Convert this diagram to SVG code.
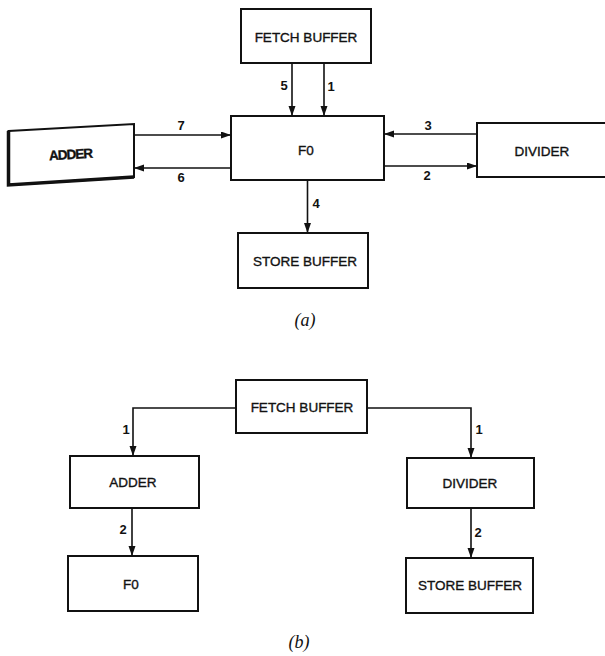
<svg xmlns="http://www.w3.org/2000/svg" width="605" height="656" viewBox="0 0 605 656">
<style>
.box{fill:#fff;stroke:#111;stroke-width:2}
.lbl{font-family:"Liberation Sans",Arial,sans-serif;font-size:13.5px;fill:#111;stroke:#111;stroke-width:0.35;text-anchor:middle}
.num{font-family:"Liberation Sans",Arial,sans-serif;font-size:13px;font-weight:bold;fill:#111;text-anchor:middle}
.cap{font-family:"Liberation Serif","Times New Roman",serif;font-size:18px;font-style:italic;fill:#111;text-anchor:middle}
.con{fill:none;stroke:#111;stroke-width:1.6}
</style>
<defs>
<marker id="ah" markerUnits="userSpaceOnUse" markerWidth="10" markerHeight="8" refX="10" refY="3.5" orient="auto">
<path d="M0,0 L10,3.5 L0,7 Z" fill="#111"/>
</marker>
</defs>
<rect width="605" height="656" fill="#fff"/>

<!-- (a) nodes -->
<g id="a-fetch"><rect class="box" x="241" y="9" width="130" height="54"/><text class="lbl" x="306" y="42">FETCH BUFFER</text></g>
<g id="a-f0"><rect class="box" x="231" y="116" width="153" height="64"/><text class="lbl" x="306" y="155">F0</text></g>
<g id="a-adder">
<polygon class="box" points="8.5,131 134,124 134,177 8.5,185"/>
<path d="M8.5,131 L8.5,185 L134,177" fill="none" stroke="#111" stroke-width="3.5"/>
<text class="lbl" x="71" y="159" font-weight="bold" font-size="13px" textLength="44" transform="rotate(-3 71 154)">ADDER</text>
</g>
<g id="a-divider"><rect class="box" x="477" y="123" width="135" height="54"/><text class="lbl" x="542" y="156">DIVIDER</text></g>
<g id="a-store"><rect class="box" x="238" y="233" width="130" height="55"/><text class="lbl" x="305" y="266">STORE BUFFER</text></g>
<text class="cap" x="305" y="326">(a)</text>

<!-- (a) connectors -->
<g id="a-connectors">
<line class="con" x1="292" y1="63" x2="292" y2="116" marker-end="url(#ah)"/>
<line class="con" x1="324" y1="63" x2="324" y2="116" marker-end="url(#ah)"/>
<line class="con" x1="134" y1="135" x2="231" y2="135" marker-end="url(#ah)"/>
<line class="con" x1="231" y1="168" x2="134" y2="168" marker-end="url(#ah)"/>
<line class="con" x1="477" y1="134" x2="384" y2="134" marker-end="url(#ah)"/>
<line class="con" x1="384" y1="166" x2="477" y2="166" marker-end="url(#ah)"/>
<line class="con" x1="307.5" y1="180" x2="307.5" y2="233" marker-end="url(#ah)"/>
<text class="num" x="284" y="90">5</text>
<text class="num" x="331" y="91">1</text>
<text class="num" x="181" y="130">7</text>
<text class="num" x="181" y="182">6</text>
<text class="num" x="428" y="130">3</text>
<text class="num" x="427" y="180">2</text>
<text class="num" x="316" y="208">4</text>
</g>

<!-- (b) nodes -->
<g id="b-fetch"><rect class="box" x="236" y="380" width="131" height="53"/><text class="lbl" x="302" y="412">FETCH BUFFER</text></g>
<g id="b-adder"><rect class="box" x="70" y="456" width="129" height="52"/><text class="lbl" x="133" y="487">ADDER</text></g>
<g id="b-divider"><rect class="box" x="407" y="458" width="127" height="50"/><text class="lbl" x="470" y="488">DIVIDER</text></g>
<g id="b-f0"><rect class="box" x="68" y="556" width="130" height="55"/><text class="lbl" x="131" y="589">F0</text></g>
<g id="b-store"><rect class="box" x="406" y="558" width="127" height="55"/><text class="lbl" x="470" y="590">STORE BUFFER</text></g>
<text class="cap" x="299" y="648">(b)</text>

<!-- (b) connectors -->
<g id="b-connectors">
<polyline class="con" points="236,408 133,408 133,456" marker-end="url(#ah)"/>
<polyline class="con" points="367,408 471,408 471,458" marker-end="url(#ah)"/>
<line class="con" x1="132" y1="508" x2="132" y2="556" marker-end="url(#ah)"/>
<line class="con" x1="471" y1="508" x2="471" y2="558" marker-end="url(#ah)"/>
<text class="num" x="126" y="434">1</text>
<text class="num" x="479" y="434">1</text>
<text class="num" x="123" y="534">2</text>
<text class="num" x="478" y="537">2</text>
</g>
</svg>
